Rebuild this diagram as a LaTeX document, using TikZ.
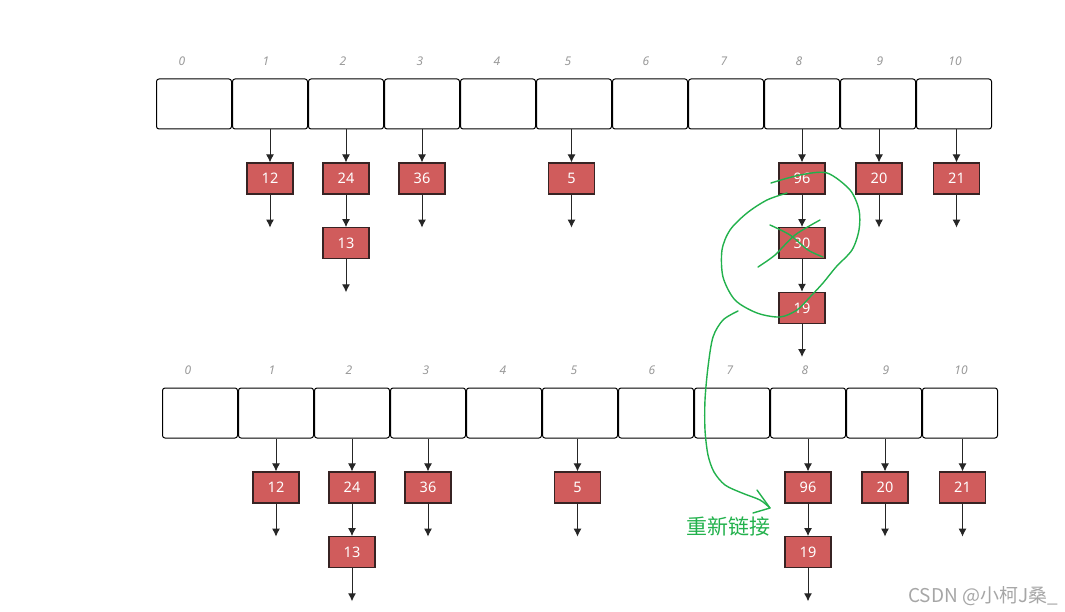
\documentclass[tikz,border=0pt]{standalone}
\usepackage{fontspec}
\setmainfont{Noto Sans}
\newfontfamily\cjk{Noto Sans CJK SC}
\usetikzlibrary{positioning,arrows.meta}

\definecolor{itemred}{RGB}{208,92,92}
\definecolor{itemedge}{RGB}{55,35,35}
\definecolor{pengreen}{RGB}{34,177,76}

\tikzset{
  cell/.style={draw,line width=1pt,rounded corners=2.5pt,
    minimum width=75pt,minimum height=50pt,inner sep=0pt},
  idx/.style={font=\itshape\fontsize{12}{12}\selectfont,text=black!40},
  item/.style={draw=itemedge,fill=itemred,line width=1.2pt,
    minimum width=46pt,minimum height=31pt,inner sep=0pt,
    text=white,font=\fontsize{14.5}{14.5}\selectfont},
  link/.style={-{Latex[length=8pt,width=8pt]},line width=1pt,draw=black!85},
  pen/.style={pengreen,line width=1.4pt,line cap=round,line join=round},
}

\begin{document}
\begin{tikzpicture}[x=1pt,y=-1pt,node distance=32.5pt]
  \useasboundingbox (0,0) rectangle (1065,612);

  % table before removal
  \foreach \i in {0,...,10}
    \node[cell] (t\i) at ({194+76*\i},104) {};
  \foreach \i/\x in {0/182,1/266,2/343,3/420,4/497,5/568,6/646,7/724,8/799,9/880,10/955}
    \node[idx] (tl\i) at (\x,61) {\i};
  \foreach \c/\x/\v in {1/270/12,2/346/24,3/422/36,5/571.5/5,8/802/96,9/879/20,10/956.5/21} {
    \node[item] (t\c a) at (\x,178.5) {\v};
    \draw[link] (t\c a |- t\c.south) -- (t\c a);
  }
  \node[item,below=of t2a] (t2b) {13};
  \node[item,below=of t8a] (t8b) {30};
  \node[item,below=of t8b] (t8c) {19};
  \draw[link] (t2a) -- (t2b);
  \draw[link] (t8a) -- (t8b);
  \draw[link] (t8b) -- (t8c);
  \foreach \n in {t1a,t2b,t3a,t5a,t8c,t9a,t10a} {
    \coordinate[below=33pt of \n.south] (\n e);
    \draw[link] (\n) -- (\n e);
  }

  % table after removal
  \begin{scope}[shift={(6,309)}]
    \foreach \i in {0,...,10}
      \node[cell] (b\i) at ({194+76*\i},104) {};
    \foreach \i/\x in {0/182,1/266,2/343,3/420,4/497,5/568,6/646,7/724,8/799,9/880,10/955}
      \node[idx] (bl\i) at (\x,61) {\i};
    \foreach \c/\x/\v in {1/270/12,2/346/24,3/422/36,5/571.5/5,8/802/96,9/879/20,10/956.5/21} {
      \node[item] (b\c a) at (\x,178.5) {\v};
      \draw[link] (b\c a |- b\c.south) -- (b\c a);
    }
    \node[item,below=of b2a] (b2b) {13};
    \node[item,below=of b8a] (b8b) {19};
    \draw[link] (b2a) -- (b2b);
    \draw[link] (b8a) -- (b8b);
    \foreach \n in {b1a,b2b,b3a,b5a,b8b,b9a,b10a} {
      \coordinate[below=33pt of \n.south] (\n e);
      \draw[link] (\n) -- (\n e);
    }
  \end{scope}

  % hand drawn marks
  \draw[pen] plot[smooth] coordinates {(771,183) (800,175) (827,173)
    (850,190) (859,210) (859,230) (852,250) (836,267) (823,283)
    (810,297) (797,310) (780,317) (757,313) (735,300) (723,277)
    (722,250) (730,230) (747,213) (767,200) (787,193)};
  \draw[pen] plot[smooth] coordinates {(770,225) (790,235) (808,250) (823,257)};
  \draw[pen] plot[smooth] coordinates {(820,220) (795,235) (775,255) (758,267)};
  \draw[pen] plot[smooth] coordinates {(738,311) (723,320) (713,337)
    (708,367) (705,400) (705,430) (708,455) (714,472) (725,485)
    (742,493) (760,500) (770,508)};
  \draw[pen] (757,490) -- (770,508) -- (753,513);
  \node[text=pengreen,font=\cjk\fontsize{21}{21}\selectfont] (relink) at (728,526) {重新链接};

  % watermark
  \node[text=black!35,font=\cjk\fontsize{19}{19}\selectfont] (mark) at (983,596) {CSDN @小柯J桑\_};
\end{tikzpicture}
\end{document}
